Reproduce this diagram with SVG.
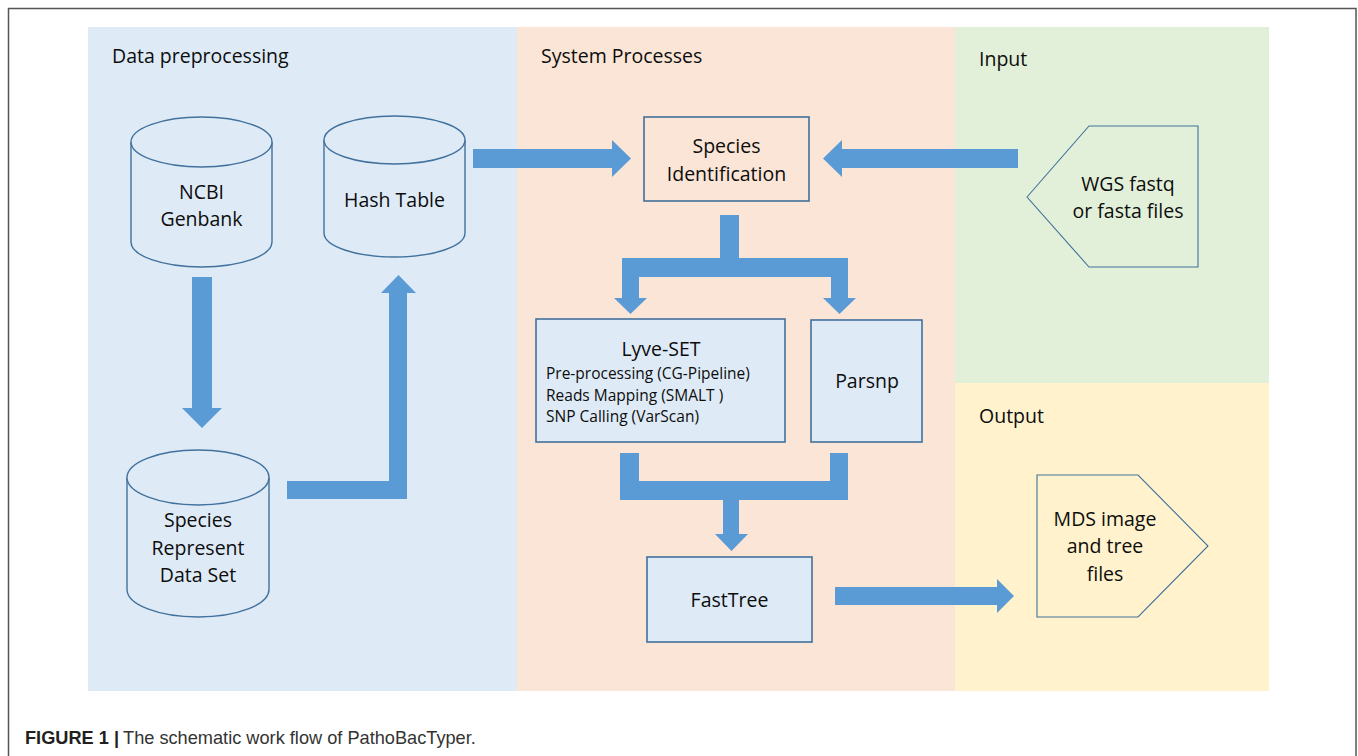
<svg xmlns="http://www.w3.org/2000/svg" width="1358" height="756" viewBox="0 0 1358 756">
<style>
.lbl{font-family:"Open Sans","Noto Sans",sans-serif;font-size:19.5px;fill:#0d0d0d}
.mid{text-anchor:middle}
.small{font-family:"Open Sans","Noto Sans",sans-serif;font-size:15.5px;fill:#0d0d0d}
.cyl{fill:#deebf7;stroke:#41719c;stroke-width:1.4}
.box{fill:#deebf7;stroke:#41719c;stroke-width:1.6}
.pent{fill:none;stroke:#41719c;stroke-width:1.1}
.arr{fill:#5b9bd5}
.cap{font-family:"Liberation Sans",Arial,sans-serif;font-size:18.2px}
</style>
<rect x="0" y="0" width="1358" height="756" fill="#ffffff"/>
<path d="M8.5,756 L8.5,8.5 L1356,8.5 L1356,756" fill="none" stroke="#555" stroke-width="1.5"/>
<g id="panels">
<rect x="88" y="27" width="429" height="664" fill="#deebf7"/>
<rect x="517" y="27" width="438" height="664" fill="#fbe5d6"/>
<rect x="955" y="27" width="314" height="356" fill="#e2f0d9"/>
<rect x="955" y="383" width="314" height="308" fill="#fff2cc"/>
<text class="lbl" x="112" y="63">Data preprocessing</text>
<text class="lbl" x="541" y="63">System Processes</text>
<text class="lbl" x="979" y="66">Input</text>
<text class="lbl" x="979" y="423">Output</text>
</g>
<g id="connectors">
<polygon class="arr" points="192,277 212,277 212,408 222,408 202,428 182,408 192,408"/>
<polygon class="arr" points="287,481 389,481 389,293 381,293 398.5,275 416,293 407,293 407,499 287,499"/>
<polygon class="arr" points="473,149 612,149 612,140 631,158.5 612,177 612,168 473,168"/>
<polygon class="arr" points="1018,149 842,149 842,140 823,158.5 842,177 842,168 1018,168"/>
<polygon class="arr" points="720,215 739,215 739,258 848,258 848,298 856,298 839.5,314 823,298 831,298 831,277 639,277 639,298 647,298 630.5,314 614,298 622,298 622,258 720,258"/>
<polygon class="arr" points="620,453 639,453 639,481 830,481 830,453 848,453 848,500 739,500 739,534 748,534 731.5,551 715,534 723,534 723,500 620,500"/>
<polygon class="arr" points="835,587 997,587 997,579 1014,596 997,613 997,605 835,605"/>
</g>
<g id="ncbi">
<path class="cyl" d="M131,142 A70.5,25 0 0 1 272,142 L272,242 A70.5,25 0 0 1 131,242 Z"/>
<path class="cyl" fill="none" d="M131,142 A70.5,25 0 0 0 272,142"/>
<text class="lbl mid" x="201.5" y="199">NCBI</text>
<text class="lbl mid" x="201.5" y="226">Genbank</text>
</g>
<g id="hash">
<path class="cyl" d="M324,140 A70.5,24 0 0 1 465,140 L465,233 A70.5,24 0 0 1 324,233 Z"/>
<path class="cyl" fill="none" d="M324,140 A70.5,24 0 0 0 465,140"/>
<text class="lbl mid" x="394.5" y="207">Hash Table</text>
</g>
<g id="species-set">
<path class="cyl" d="M127,477.5 A71,27.5 0 0 1 269,477.5 L269,589.5 A71,27.5 0 0 1 127,589.5 Z"/>
<path class="cyl" fill="none" d="M127,477.5 A71,27.5 0 0 0 269,477.5"/>
<text class="lbl mid" x="198" y="527">Species</text>
<text class="lbl mid" x="198" y="555">Represent</text>
<text class="lbl mid" x="198" y="582">Data Set</text>
</g>
<g id="species-id">
<rect class="box" x="644" y="117" width="165" height="84" style="fill:#fbe5d6"/>
<text class="lbl mid" x="726.5" y="153">Species</text>
<text class="lbl mid" x="726.5" y="181">Identification</text>
</g>
<g id="lyve">
<rect class="box" x="536" y="319" width="249" height="123"/>
<text class="lbl mid" x="661" y="356">Lyve-SET</text>
<text class="small" x="546" y="379">Pre-processing (CG-Pipeline)</text>
<text class="small" x="546" y="401">Reads Mapping (SMALT )</text>
<text class="small" x="546" y="422">SNP Calling (VarScan)</text>
</g>
<g id="parsnp">
<rect class="box" x="811" y="320" width="111" height="122"/>
<text class="lbl mid" x="867" y="388">Parsnp</text>
</g>
<g id="fasttree">
<rect class="box" x="647" y="557" width="165" height="85"/>
<text class="lbl mid" x="729.5" y="607">FastTree</text>
</g>
<g id="input">
<polygon class="pent" points="1027,197 1089,126 1198,126 1198,267 1089,267"/>
<text class="lbl mid" x="1128" y="191">WGS fastq</text>
<text class="lbl mid" x="1128" y="218">or fasta files</text>
</g>
<g id="output">
<polygon class="pent" points="1037,475 1138,475 1208,546 1138,617 1037,617"/>
<text class="lbl mid" x="1105" y="526">MDS image</text>
<text class="lbl mid" x="1105" y="553">and tree</text>
<text class="lbl mid" x="1105" y="581">files</text>
</g>
<g id="caption">
<text class="cap" x="25" y="744"><tspan font-weight="bold" fill="#231f20">FIGURE 1 |</tspan><tspan fill="#333" dx="4">The schematic work flow of PathoBacTyper.</tspan></text>
</g>
</svg>
